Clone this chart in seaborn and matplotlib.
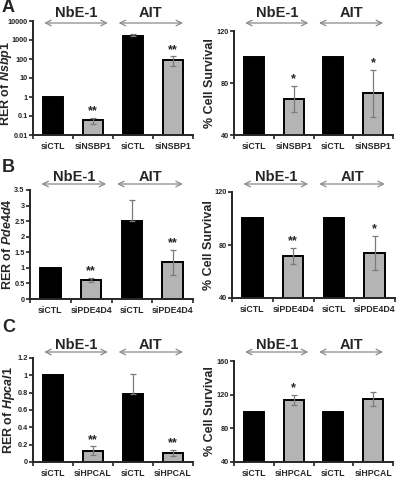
"""
siRNA knockdown panels: relative expression and cell survival
"""

import numpy as np
import pandas as pd
import matplotlib

matplotlib.use("Agg")
import matplotlib.pyplot as plt
import matplotlib.transforms as mtransforms
import seaborn as sns


GROUPS = ["NbE-1", "AIT"]
COLORS = ["black", "#b4b4b4", "black", "#b4b4b4"]

# panel A
a_labels = ["siCTL", "siNSBP1", "siCTL", "siNSBP1"]
a_rer = [1, 0.06, 1700, 90]
a_rer_err = [0, 0.022, 250, 47]
a_rer_sig = ["", "**", "", "**"]
a_surv = [100, 68, 100, 72]
a_surv_err = [0, 10, 0, 18]
a_surv_sig = ["", "*", "", "*"]

# panel B
b_labels = ["siCTL", "siPDE4D4", "siCTL", "siPDE4D4"]
b_rer = [1, 0.6, 2.5, 1.18]
b_rer_err = [0, 0.07, 0.68, 0.4]
b_rer_sig = ["", "**", "", "**"]
b_surv = [100, 72, 100, 74]
b_surv_err = [0, 6, 0, 13]
b_surv_sig = ["", "**", "", "*"]

# panel C
c_labels = ["siCTL", "siHPCAL", "siCTL", "siHPCAL"]
c_rer = [1, 0.13, 0.78, 0.1]
c_rer_err = [0, 0.05, 0.23, 0.035]
c_rer_sig = ["", "**", "", "**"]
c_surv = [100, 114, 100, 115]
c_surv_err = [0, 6, 0, 8]
c_surv_sig = ["", "*", "", ""]

sns.set_style("ticks")
plt.rcParams["font.family"] = ["Liberation Sans", "DejaVu Sans"]
plt.rcParams["font.weight"] = "bold"
plt.rcParams["mathtext.fontset"] = "custom"
plt.rcParams["mathtext.it"] = "Liberation Sans:italic:bold"
plt.rcParams["mathtext.rm"] = "Liberation Sans:bold"

W, H = 400, 478
fig = plt.figure(figsize=(4, 4.78), dpi=100)


def px_axes(left, right, top, bottom):
    ax = fig.add_axes(
        [left / W, 1 - bottom / H, (right - left) / W, (bottom - top) / H]
    )
    ax._px = (left, right)
    return ax


def bar_panel(ax, labels, values, errs, sigs, ylabel, label_x, yticks,
              yticklabels, ylim, arrow_y, label_y, log=False, label_y_frac=0.5):
    df = pd.DataFrame(
        {"cond": [f"{g}-{l}" for g in GROUPS for l in labels[:2]],
         "value": values}
    )
    if log:
        ax.set_yscale("log")
    sns.barplot(
        data=df, x="cond", y="value", hue="cond", palette=COLORS,
        width=0.5, edgecolor="black", linewidth=1.4, legend=False,
        errorbar=None, ax=ax, saturation=1,
    )
    pos = np.arange(len(values))
    vals = np.array(values, dtype=float)
    errs = np.array(errs, dtype=float)
    lower = np.where(np.array(COLORS) == "black", 0, errs)
    has = errs > 0
    ax.errorbar(pos[has], vals[has], yerr=[lower[has], errs[has]], fmt="none",
                ecolor="#7a7a7a", elinewidth=0.9, capsize=2.2, capthick=0.9,
                zorder=5)
    for p, v, e, s in zip(pos, vals, errs, sigs):
        if s:
            ax.annotate(s, (p, v + e), xytext=(0, 0.5),
                        textcoords="offset points", ha="center", va="bottom",
                        fontsize=9, fontweight="bold")
    ax.set_xlim(-0.5, 3.5)
    ax.set_ylim(*ylim)
    ax.set_yticks(yticks)
    ax.set_yticklabels(yticklabels, fontsize=5.3, fontweight="bold")
    ax.yaxis.set_minor_locator(matplotlib.ticker.NullLocator())
    ax.set_xticks(pos)
    ax.set_xticklabels(labels, fontsize=6.3, fontweight="bold")
    ax.set_xticks([-0.5, 0.5, 1.5, 2.5, 3.5], minor=True)
    ax.tick_params(axis="x", which="major", length=0, pad=5)
    ax.tick_params(axis="x", which="minor", length=3, width=1.2)
    ax.tick_params(axis="y", length=3, width=1.2, pad=0.8)
    ax.set_xlabel("")
    ax.set_ylabel(ylabel, fontsize=9, fontweight="bold")
    left, right = ax._px
    ax.yaxis.set_label_coords((label_x - left) / (right - left), label_y_frac)
    sns.despine(ax=ax)
    for sp in ["left", "bottom"]:
        ax.spines[sp].set_linewidth(1.4)

    trans = mtransforms.blended_transform_factory(ax.transData, fig.transFigure)
    for (x0, x1), name in zip([(-0.22, 1.37), (1.64, 3.25)], GROUPS):
        ax.annotate("", xy=(x0, 1 - arrow_y / H), xytext=(x1, 1 - arrow_y / H),
                    xycoords=trans, textcoords=trans,
                    arrowprops=dict(arrowstyle="<->", color="#8a8a8a",
                                    lw=0.9, shrinkA=0, shrinkB=0),
                    annotation_clip=False)
        ax.text((x0 + x1) / 2, 1 - label_y / H, name, transform=trans,
                ha="center", va="center", fontsize=10.5, fontweight="bold")


rows = [
    # top, bottom (left), top, bottom (right), arrow y, label y
    (21, 135, 31, 135, 23, 13),
    (190, 299, 192, 298, 184, 177),
    (358, 462, 361, 462, 352, 345),
]

# A
ax = px_axes(33, 193, rows[0][0], rows[0][1])
bar_panel(ax, a_labels, a_rer, a_rer_err, a_rer_sig, r"RER of $\mathit{Nsbp1}$",
          14.5, [0.01, 0.1, 1, 10, 100, 1000, 10000],
          ["0.01", "0.1", "1", "10", "100", "1000", "10000"],
          (0.01, 10000), rows[0][4], rows[0][5], log=True, label_y_frac=0.45)
ax = px_axes(234, 393, rows[0][2], rows[0][3])
bar_panel(ax, a_labels, a_surv, a_surv_err, a_surv_sig, "% Cell Survival",
          216, [40, 80, 120], ["40", "80", "120"], (40, 120),
          rows[0][4], rows[0][5])

# B
ax = px_axes(30, 193, rows[1][0], rows[1][1])
bar_panel(ax, b_labels, b_rer, b_rer_err, b_rer_sig, r"RER of $\mathit{Pde4d4}$",
          14.5, np.arange(0, 3.6, 0.5),
          ["0", "0.5", "1", "1.5", "2", "2.5", "3", "3.5"],
          (0, 3.5), rows[1][4], rows[1][5])
ax = px_axes(232, 395, rows[1][2], rows[1][3])
bar_panel(ax, b_labels, b_surv, b_surv_err, b_surv_sig, "% Cell Survival",
          215, [40, 80, 120], ["40", "80", "120"], (40, 120),
          rows[1][4], rows[1][5])

# C
ax = px_axes(33, 193, rows[2][0], rows[2][1])
bar_panel(ax, c_labels, c_rer, c_rer_err, c_rer_sig, r"RER of $\mathit{Hpcal1}$",
          17, np.arange(0, 1.21, 0.2),
          ["0", "0.2", "0.4", "0.6", "0.8", "1", "1.2"],
          (0, 1.2), rows[2][4], rows[2][5])
ax = px_axes(234, 393, rows[2][2], rows[2][3])
bar_panel(ax, c_labels, c_surv, c_surv_err, c_surv_sig, "% Cell Survival",
          216, [40, 80, 120, 160], ["40", "80", "120", "160"], (40, 160),
          rows[2][4], rows[2][5])

for letter, y in zip(["A", "B", "C"], [7, 168, 327]):
    fig.text(2 / W, 1 - y / H, letter, fontsize=13, fontweight="bold",
             va="center", ha="left")

fig.savefig("out.png", dpi=100)
